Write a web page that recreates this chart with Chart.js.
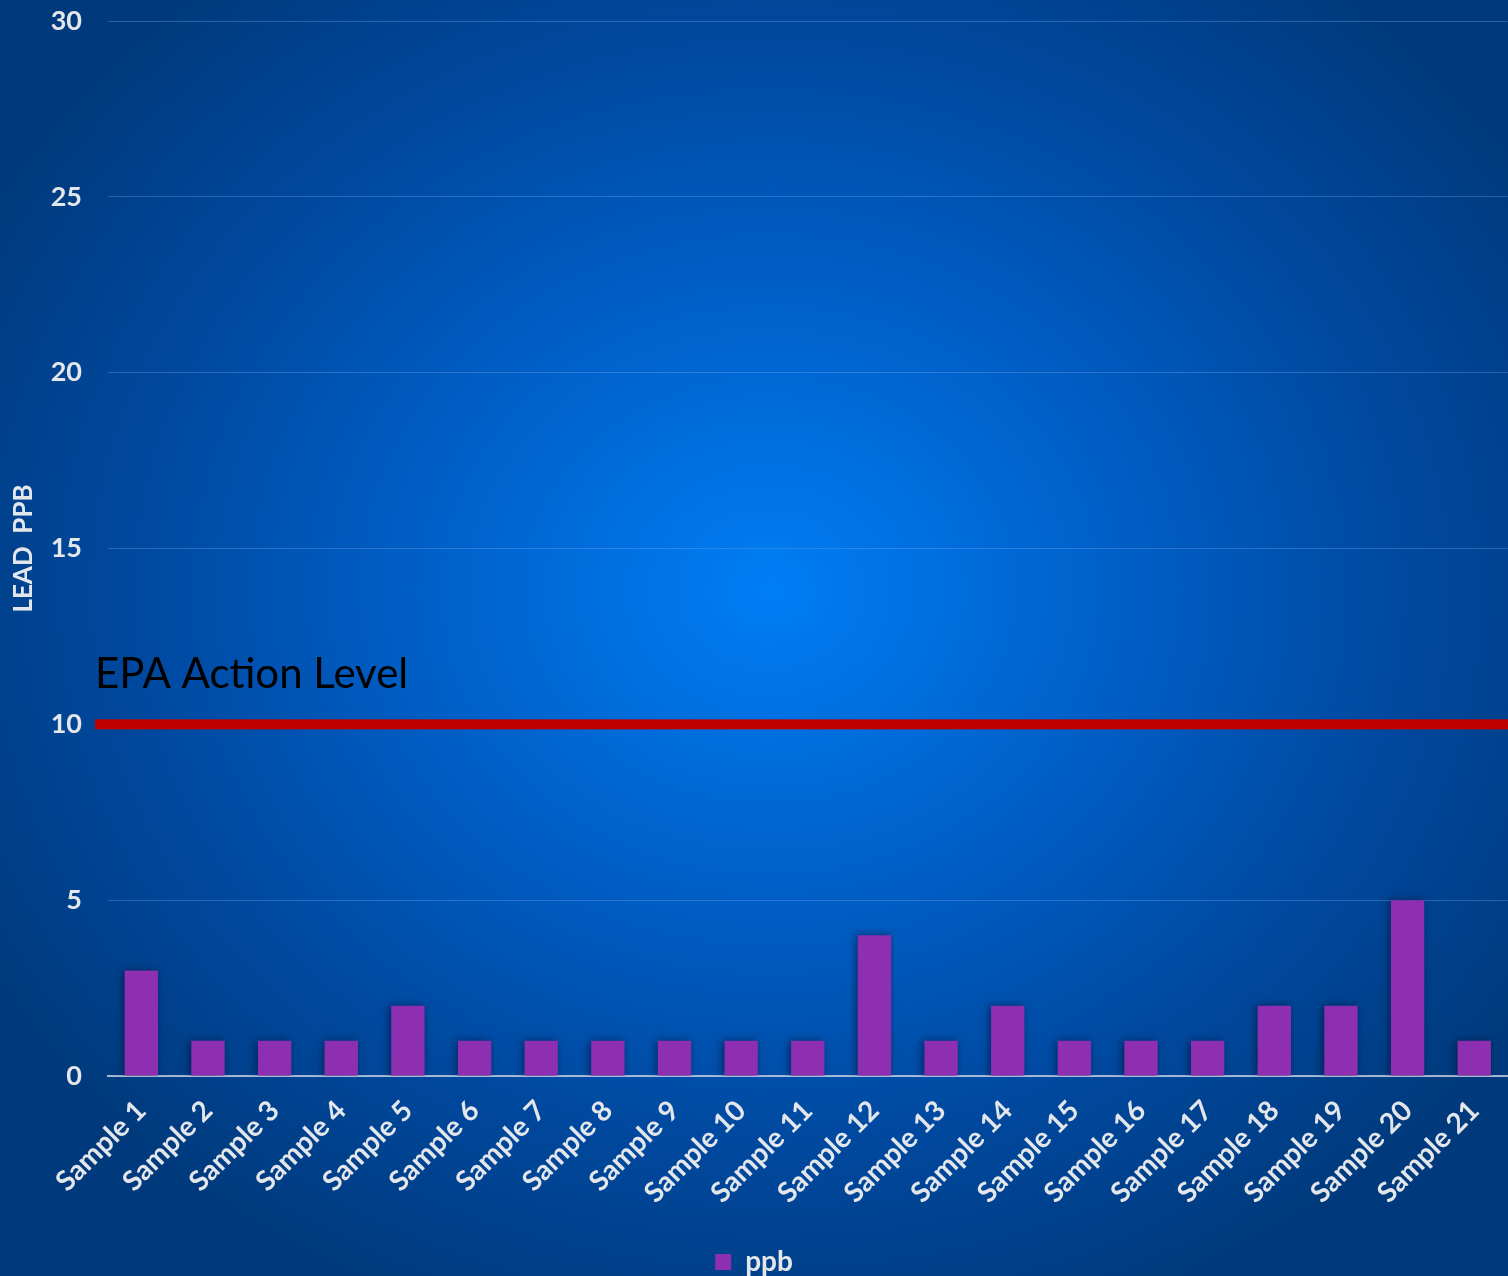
<!DOCTYPE html>
<html>
<head>
<meta charset="utf-8">
<script src="https://cdn.jsdelivr.net/npm/chart.js@4"></script>
<style>
  html, body { margin: 0; padding: 0; }
  body {
    width: 1508px; height: 1276px; overflow: hidden;
    background: radial-gradient(ellipse 900px 780px at 770px 590px, #007ef5 0%, #0062cc 35%, #0049a0 70%, #003a7c 100%);
  }
  #wrap { position: relative; width: 1508px; height: 1276px; }
</style>
</head>
<body>
<div id="wrap"><canvas id="chart"></canvas></div>
<script>
// data
const categories = ['Sample 1', 'Sample 2', 'Sample 3', 'Sample 4', 'Sample 5', 'Sample 6', 'Sample 7',
  'Sample 8', 'Sample 9', 'Sample 10', 'Sample 11', 'Sample 12', 'Sample 13', 'Sample 14',
  'Sample 15', 'Sample 16', 'Sample 17', 'Sample 18', 'Sample 19', 'Sample 20', 'Sample 21'];
const ppbValues = [3, 1, 1, 1, 2, 1, 1, 1, 1, 1, 1, 4, 1, 2, 1, 1, 1, 2, 2, 5, 1];
const yTicks = [0, 5, 10, 15, 20, 25, 30];
const actionLevel = 10;
const actionLabel = 'EPA Action Level';

const fontFamily = 'Lato, "Open Sans", sans-serif';
const labelColor = '#e3e6ea';

// shadow behind the bars
const barShadow = {
    id: 'barShadow',
    beforeDatasetsDraw(chart) {
        const ctx = chart.ctx;
        ctx.save();
        ctx.shadowColor = 'rgba(0, 10, 40, 0.55)';
        ctx.shadowBlur = 8;
        ctx.shadowOffsetX = -2;
    },
    afterDatasetsDraw(chart) {
        chart.ctx.restore();
    }
};

// red EPA action level line with its label
const actionLine = {
    id: 'actionLine',
    afterDatasetsDraw(chart) {
        const ctx = chart.ctx;
        const y = chart.scales.y.getPixelForValue(actionLevel);
        ctx.save();
        ctx.fillStyle = '#c00000';
        ctx.fillRect(95, y - 5, chart.width - 95, 10);
        ctx.fillStyle = '#000000';
        ctx.font = '42px ' + fontFamily;
        ctx.textBaseline = 'alphabetic';
        ctx.fillText(actionLabel, 95, y - 36);
        ctx.restore();
    }
};

const ctx = document.getElementById('chart');
new Chart(ctx, {
    type: 'bar',
    data: {
        labels: categories,
        datasets: [{
            label: 'ppb',
            data: ppbValues,
            backgroundColor: '#8e2fb2',
            barPercentage: 0.5,
            categoryPercentage: 1.0
        }]
    },
    options: {
        responsive: true,
        maintainAspectRatio: false,
        animation: false,
        layout: { padding: { top: 21, right: 0, bottom: -10, left: 0 } },
        plugins: {
            legend: {
                position: 'bottom',
                labels: {
                    color: labelColor,
                    boxWidth: 16,
                    boxHeight: 16,
                    padding: 2,
                    font: { family: fontFamily, size: 28, weight: 'bold' }
                }
            },
            tooltip: { enabled: false }
        },
        scales: {
            x: {
                grid: { display: false },
                border: { display: true, color: 'rgba(200, 210, 225, 0.8)', width: 2 },
                ticks: {
                    color: labelColor,
                    maxRotation: 45,
                    minRotation: 45,
                    padding: 10,
                    font: { family: fontFamily, size: 28, weight: 'bold' }
                },
                afterFit(scale) { scale.height = 170; }
            },
            y: {
                min: 0,
                max: 30,
                afterBuildTicks(scale) { scale.ticks = yTicks.map(v => ({ value: v })); },
                grid: {
                    color: 'rgba(120, 170, 240, 0.35)',
                    lineWidth: 1,
                    drawTicks: false
                },
                border: { display: false },
                ticks: {
                    color: labelColor,
                    padding: 26,
                    font: { family: fontFamily, size: 27, weight: 'bold' }
                },
                title: {
                    display: true,
                    text: 'LEAD  PPB',
                    color: labelColor,
                    padding: { top: 8, bottom: 0 },
                    font: { family: fontFamily, size: 26, weight: 'bold' }
                },
                afterFit(scale) {
                    scale.width = 108;
                    scale.paddingTop = 0;
                    scale.paddingBottom = 0;
                }
            }
        }
    },
    plugins: [barShadow, actionLine]
});
</script>
</body>
</html>
